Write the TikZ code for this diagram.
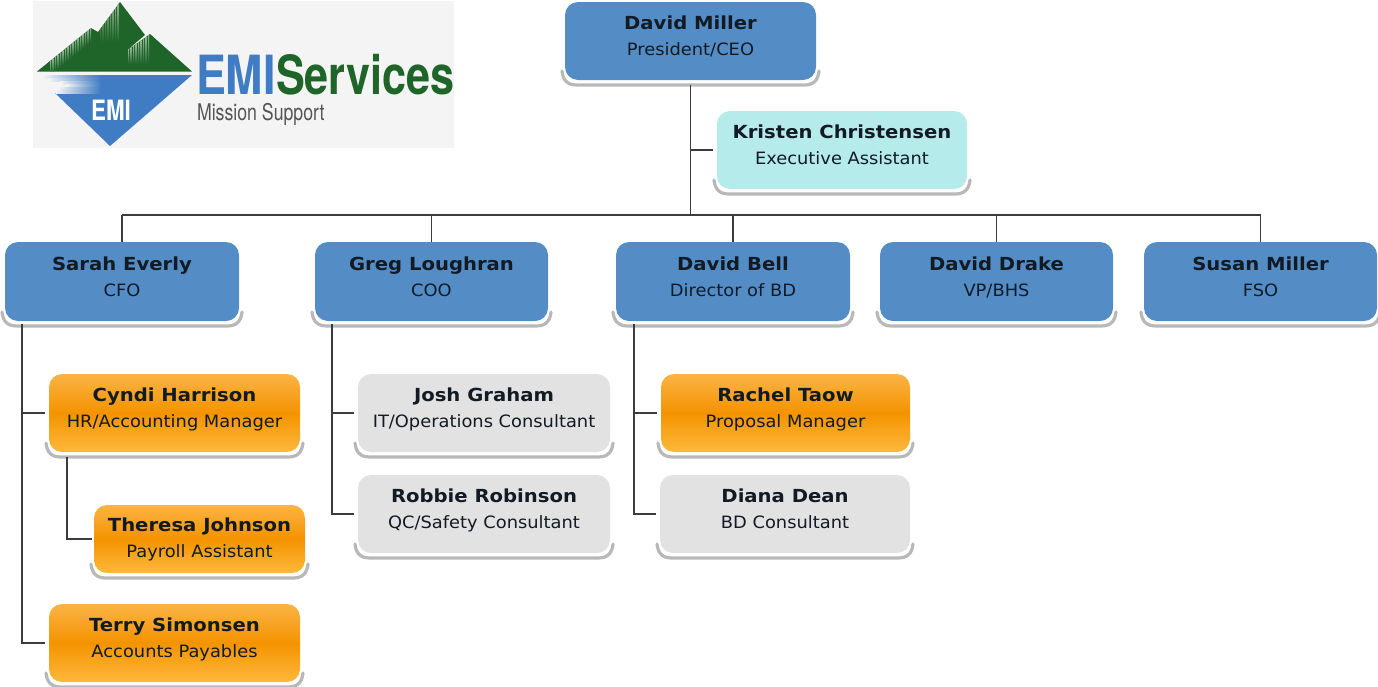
\documentclass[tikz,border=0pt]{standalone}
\usepackage{fontspec}
\setmainfont{DejaVu Sans}
\newfontfamily\logofont{TeX Gyre Heros}
\usetikzlibrary{calc}
\definecolor{bluebox}{HTML}{548DC6}
\definecolor{tealbox}{HTML}{B5EBEA}
\definecolor{greybox}{HTML}{E2E2E2}
\definecolor{orangetop}{HTML}{FBB445}
\definecolor{orangemid}{HTML}{F49300}
\definecolor{orangebot}{HTML}{FDB93C}
\definecolor{shadowgrey}{HTML}{B8B8B8}
\definecolor{wirecol}{HTML}{3C3C3C}
\definecolor{textcol}{HTML}{121A24}
\definecolor{logobg}{HTML}{F4F4F4}
\definecolor{logogreen}{HTML}{1F6428}
\definecolor{logoblue}{HTML}{3F7CC4}
\definecolor{logogrey}{HTML}{555555}
\tikzset{
  orgbox/.style={rounded corners=13pt,inner sep=0pt,outer sep=0pt,align=center,text=textcol,font=\fontsize{17}{26}\selectfont},
  blueb/.style={orgbox,fill=bluebox},
  tealb/.style={orgbox,fill=tealbox},
  greyb/.style={orgbox,fill=greybox},
  orangeb/.style={orgbox,top color=orangetop,bottom color=orangebot,middle color=orangemid},
  boxshadow/.style={draw=shadowgrey,line width=3.2pt,line cap=round},
  wire/.style={draw=wirecol,line width=1.6pt},
  branch/.style={wire,shorten >=4pt},
  logotext/.style={inner sep=0pt,outer sep=0pt,text depth=0pt},
  wisp/.style={top color=logogreen!45!white,bottom color=logogreen},
}
\newcommand{\orgtail}{\\[-16pt]\null}
\newcommand{\orgnode}[8]{%
  \node[#6,minimum width={(#4-#2)*1pt},minimum height={(#5-#3)*1pt}] (#1) at ({(#2+#4)/2},{(#3+#5)/2})
    {\scalebox{1.09}[1]{\fontsize{18}{26}\selectfont\bfseries #7}\\\scalebox{1.05}[1]{#8}\orgtail};
  \draw[boxshadow] ($(#1.south west)+(-3,-9)$) .. controls +(1,9) and +(-10,0) .. ($(#1.south west)+(12,5)$)
     -- ($(#1.south east)+(-12,5)$) .. controls +(10,0) and +(-1,9) .. ($(#1.south east)+(3,-9)$);
}
\begin{document}
\begin{tikzpicture}[x=1pt,y=-1pt]
\useasboundingbox (0,0) rectangle (1378,686);
% logo
\fill[logobg] (33,1) rectangle (454,148);
\begin{scope}
  \path[clip] (37,71.5) -- (91,28) -- (98,32) -- (120,2) -- (145,35) -- (125,52) -- (150,34) -- (192,71.5) -- cycle;
  \fill[logogreen] (30,0) rectangle (200,75);
  \foreach \x in {100,102.5,...,118}{\shade[wisp] (\x,2) rectangle (\x+1.2,42);}
  \foreach \x in {50,52.5,...,90}{\shade[wisp] (\x,{71.5-(\x-37)*0.81-1}) rectangle (\x+1.2,{71.5-(\x-37)*0.81+14});}
  \foreach \x in {128,130.5,...,149}{\shade[wisp] (\x,{34+(150-\x)*0.8-2}) rectangle (\x+1.2,64);}
\end{scope}
\fill[logoblue] (192,75) -- (110,146) -- (55,93) -- (100,93) -- (100,75) -- cycle;
\foreach \y/\s in {75/42,78/48,81/60,84/66,87/58,90/56}{\shade[left color=logobg,right color=logoblue] (\s,\y) rectangle (101,\y+3);}
\node[logotext,text=white] (logoemi) at (111,110) {\logofont\bfseries\fontsize{28}{28}\selectfont\scalebox{.8}[1]{EMI}};
\node[logotext,text=logoblue,anchor=base west] (logoa) at (196,94) {\logofont\bfseries\fontsize{54}{54}\selectfont\scalebox{.83}[1]{EMI}};
\node[logotext,text=logogreen,anchor=base west] (logob) at (276,94) {\logofont\bfseries\fontsize{54}{54}\selectfont\scalebox{.8}[1]{Services}};
\node[logotext,text=logogrey,anchor=base west] (logoc) at (197,120) {\logofont\fontsize{23}{23}\selectfont\scalebox{.77}[1]{Mission Support}};
% boxes
\orgnode{miller}{565}{2}{816}{80}{blueb}{David Miller}{President/CEO}
\orgnode{kristen}{717}{111}{967}{189}{tealb}{Kristen Christensen}{Executive Assistant}
\orgnode{sarah}{5}{242}{239}{321}{blueb}{Sarah Everly}{CFO}
\orgnode{greg}{315}{242}{548}{321}{blueb}{Greg Loughran}{COO}
\orgnode{bell}{616}{242}{850}{321}{blueb}{David Bell}{Director of BD}
\orgnode{drake}{880}{242}{1113}{321}{blueb}{David Drake}{VP/BHS}
\orgnode{susan}{1144}{242}{1377}{321}{blueb}{Susan Miller}{FSO}
\orgnode{cyndi}{49}{374}{300}{452}{orangeb}{Cyndi Harrison}{HR/Accounting Manager}
{\renewcommand{\orgtail}{}\orgnode{theresa}{94}{505}{305}{573}{orangeb}{Theresa Johnson}{Payroll Assistant}}
\orgnode{terry}{49}{604}{300}{682}{orangeb}{Terry Simonsen}{Accounts Payables}
\orgnode{josh}{358}{374}{610}{452}{greyb}{Josh Graham}{IT/Operations Consultant}
\orgnode{robbie}{358}{475}{610}{553}{greyb}{Robbie Robinson}{QC/Safety Consultant}
\orgnode{rachel}{661}{374}{910}{452}{orangeb}{Rachel Taow}{Proposal Manager}
\orgnode{diana}{660}{475}{910}{553}{greyb}{Diana Dean}{BD Consultant}
% connectors
\coordinate (bus) at (691,215);
\coordinate (sarahT) at (22,324);
\coordinate (gregT) at (332,324);
\coordinate (bellT) at (634,324);
\coordinate (cyndiT) at (67,457);
\draw[wire] ($(miller.south)+(0,5)$) -- (miller.south |- bus);
\draw[branch] (miller.south |- kristen.west) -- (kristen.west);
\draw[wire] (sarah.north |- bus) -- (susan.north |- bus);
\foreach \n in {sarah,greg,bell,drake,susan}{\draw[wire] (\n.north |- bus) -- (\n.north);}
\draw[branch] (sarahT) |- (cyndi.west);
\draw[branch] (sarahT) |- (terry.west);
\draw[branch] (gregT) |- (josh.west);
\draw[branch] (gregT) |- (robbie.west);
\draw[branch] (bellT) |- (rachel.west);
\draw[branch] (bellT) |- (diana.west);
\draw[branch,shorten >=2pt] (cyndiT) |- (theresa.west);
\end{tikzpicture}
\end{document}
